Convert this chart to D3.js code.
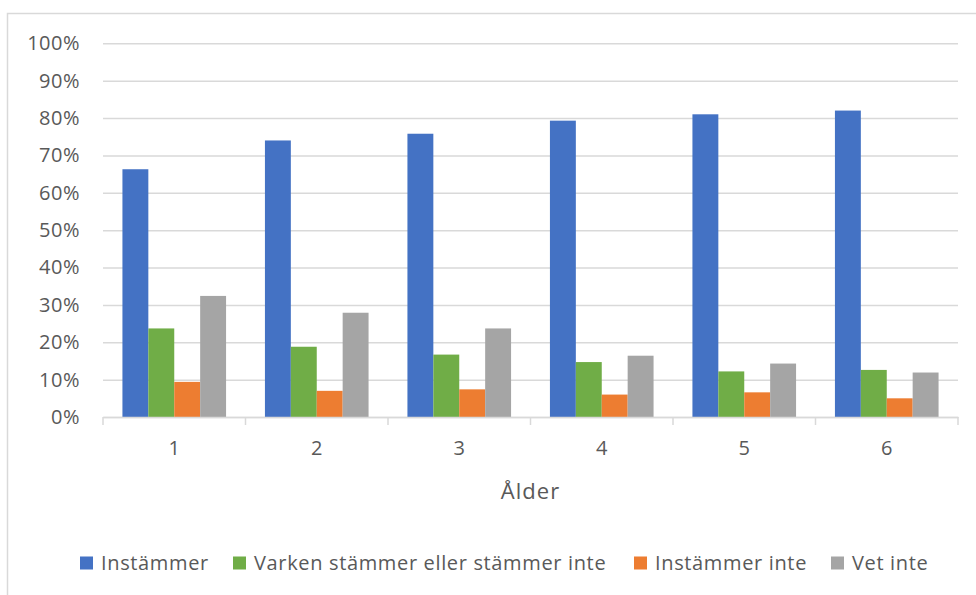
<!DOCTYPE html>
<html>
<head>
<meta charset="utf-8">
<script src="https://cdn.jsdelivr.net/npm/d3@7"></script>
<style>
  html, body { margin: 0; padding: 0; background: #fff; }
  svg { display: block; }
  text { font-family: "Open Sans", "Noto Sans", sans-serif; fill: #595959; }
</style>
</head>
<body>
<svg id="chart" width="976" height="595"></svg>
<script>
const categories = ["1", "2", "3", "4", "5", "6"];
const seriesNames = ["Instämmer", "Varken stämmer eller stämmer inte", "Instämmer inte", "Vet inte"];
const seriesColors = ["#4472C4", "#70AD47", "#ED7D31", "#A5A5A5"];
const instammer = [0.663, 0.740, 0.758, 0.793, 0.810, 0.820];
const varken = [0.237, 0.188, 0.167, 0.147, 0.122, 0.126];
const instammerInte = [0.094, 0.070, 0.074, 0.060, 0.066, 0.050];
const vetInte = [0.324, 0.279, 0.237, 0.164, 0.143, 0.119];
const yTicks = [0, 0.1, 0.2, 0.3, 0.4, 0.5, 0.6, 0.7, 0.8, 0.9, 1.0];
const xTitle = "Ålder";

const seriesValues = [instammer, varken, instammerInte, vetInte];

(function () {
const svg = d3.select("#chart");
const FONT = "'Open Sans', 'Noto Sans', sans-serif";
const LS = "0.65px";

// chart border (extends beyond right/bottom edges as in reference)
svg.append("rect")
  .attr("x", 7.5).attr("y", 13.5)
  .attr("width", 1000).attr("height", 1000)
  .attr("fill", "none").attr("stroke", "#d9d9d9").attr("stroke-width", 1.5);

const plotLeft = 103, plotRight = 958, plotTop = 43.3, plotBottom = 417;

const x0 = d3.scaleBand().domain(categories).range([plotLeft, plotRight]).paddingInner(0).paddingOuter(0);
const innerPad = 1.5 / 5.5; // gap width 150%
const x1 = d3.scaleBand().domain(d3.range(seriesNames.length))
  .range([x0.bandwidth() * innerPad / 2, x0.bandwidth() * (1 - innerPad / 2)]).padding(0);
const y = d3.scaleLinear().domain([0, 1]).range([plotBottom, plotTop]);

// gridlines + y labels
const yAxis = d3.axisLeft(y).tickValues(yTicks).tickFormat(d3.format(".0%")).tickSize(-(plotRight - plotLeft)).tickPadding(23);
const gy = svg.append("g").attr("transform", `translate(${plotLeft},0)`).call(yAxis);
gy.select(".domain").remove();
gy.selectAll(".tick line").attr("stroke", "#d9d9d9").attr("stroke-width", 1.5);
gy.selectAll(".tick text").attr("font-size", 20).style("fill", "#595959")
  .attr("font-family", FONT).style("letter-spacing", "0.5px");

// bars
const groups = svg.append("g").selectAll("g").data(categories).join("g")
  .attr("transform", d => `translate(${x0(d)},0)`);
groups.selectAll("rect")
  .data((c, ci) => seriesValues.map((vals, si) => ({ si, v: vals[ci] })))
  .join("rect")
  .attr("x", d => x1(d.si))
  .attr("width", x1.bandwidth())
  .attr("y", d => y(d.v))
  .attr("height", d => plotBottom - y(d.v))
  .attr("fill", d => seriesColors[d.si]);

// x axis
const xAxis = d3.axisBottom(x0).tickSize(0).tickPadding(24);
const gx = svg.append("g").attr("transform", `translate(0,${plotBottom})`).call(xAxis);
gx.select(".domain").attr("stroke", "#d9d9d9").attr("stroke-width", 1.5);
gx.selectAll(".tick text").attr("font-size", 20).style("fill", "#595959")
  .attr("font-family", FONT);
// category separator ticks
const sepPositions = categories.map(c => x0(c)).concat([plotRight]);
svg.append("g").selectAll("line").data(sepPositions).join("line")
  .attr("x1", d => d).attr("x2", d => d)
  .attr("y1", plotBottom).attr("y2", plotBottom + 8)
  .attr("stroke", "#d9d9d9").attr("stroke-width", 1.5);

// axis title
svg.append("text")
  .attr("x", (plotLeft + plotRight) / 2).attr("y", 499)
  .attr("text-anchor", "middle").attr("font-size", 22)
  .style("letter-spacing", "1px")
  .text(xTitle);

// legend
const legendX = [80, 233, 634, 831];
const legend = svg.append("g").selectAll("g").data(seriesNames).join("g")
  .attr("transform", (d, i) => `translate(${legendX[i]},556.5)`);
legend.append("rect").attr("width", 13).attr("height", 13)
  .attr("fill", (d, i) => seriesColors[i]);
legend.append("text").attr("x", 21).attr("y", 13.5)
  .attr("font-size", 20).style("letter-spacing", LS).text(d => d);
})();
</script>
</body>
</html>
